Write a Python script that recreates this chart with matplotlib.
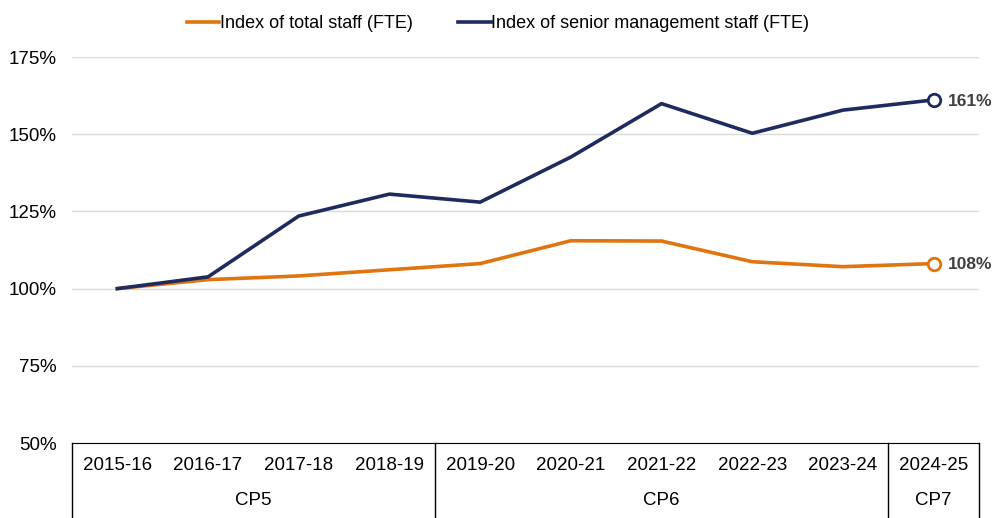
import matplotlib.pyplot as plt
import matplotlib.transforms as mtransforms

# data
years = ['2015-16', '2016-17', '2017-18', '2018-19', '2019-20',
         '2020-21', '2021-22', '2022-23', '2023-24', '2024-25']
total_staff = [100, 102.9, 104.1, 106.1, 108.1, 115.5, 115.4, 108.7, 107.1, 108.1]
senior_staff = [100, 103.8, 123.5, 130.6, 128.0, 142.6, 159.9, 150.3, 157.8, 161.1]
periods = ['CP5', 'CP6', 'CP7']
period_bounds = [(-0.5, 3.5), (3.5, 8.5), (8.5, 9.5)]
yticks = [50, 75, 100, 125, 150, 175]

orange = '#E0740F'
navy = '#1F2B5E'

plt.rcParams['font.family'] = ['Liberation Sans', 'DejaVu Sans']

fig = plt.figure(figsize=(9.96, 5.18), dpi=100)
ax = fig.add_axes([72/996, 75/518, (979-72)/996, (443-57)/518])

x = list(range(len(years)))
ax.plot(x, total_staff, color=orange, lw=2.6, label='Index of total staff (FTE)', zorder=3)
ax.plot(x, senior_staff, color=navy, lw=2.6, label='Index of senior management staff (FTE)', zorder=3)

# end markers and labels
for series, col in [(total_staff, orange), (senior_staff, navy)]:
    ax.plot(x[-1], series[-1], 'o', ms=9, mfc='white', mec=col, mew=2, zorder=4)
    ax.annotate(f'{series[-1]:.0f}%', (x[-1], series[-1]), xytext=(10, -1),
                textcoords='offset points', va='center', ha='left',
                fontsize=12.5, fontweight='bold', color='#404040', annotation_clip=False)

ax.set_xlim(-0.5, 9.5)
ax.set_ylim(50, 175)
ax.set_yticks(yticks)
ax.set_yticklabels([f'{v}%' for v in yticks], fontsize=13.5)
ax.grid(axis='y', color='#D9D9D9', lw=1)
ax.set_axisbelow(True)
ax.tick_params(axis='y', length=0, pad=11)
ax.set_xticks([])
for s in ['top', 'right', 'left']:
    ax.spines[s].set_visible(False)
ax.spines['bottom'].set_color('black')

# category table under the axis
trans = mtransforms.blended_transform_factory(ax.transData, ax.transAxes)
for i, yr in enumerate(years):
    ax.text(i, -0.058, yr, transform=trans, ha='center', va='center', fontsize=13.5)
for name, (a, b) in zip(periods, period_bounds):
    ax.text((a + b) / 2, -0.148, name, transform=trans, ha='center', va='center', fontsize=13.5)
for xb in [-0.5, 3.5, 8.5, 9.5]:
    ax.plot([xb, xb], [0, -0.25], transform=trans, color='black', lw=1, clip_on=False)

leg = fig.legend(loc='center', bbox_to_anchor=(0.5, 1 - 24/518), ncol=2, frameon=False,
                 fontsize=13, handlelength=1.8, handletextpad=0.05, columnspacing=2.5)

fig.savefig('out.png', dpi=100)
